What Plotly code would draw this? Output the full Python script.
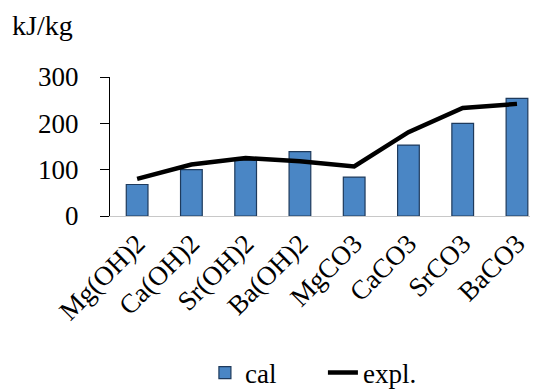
import plotly.graph_objects as go

categories = ["Mg(OH)2", "Ca(OH)2", "Sr(OH)2", "Ba(OH)2", "MgCO3", "CaCO3", "SrCO3", "BaCO3"]
cal = [68, 100, 120, 139, 84, 153, 200, 254]
expl = [80, 111, 125, 118, 107, 181, 233, 242]
y_ticks = [0, 100, 200, 300]

FONT = "Liberation Serif, Times New Roman, serif"

fig = go.Figure()
fig.add_trace(go.Bar(
    x=categories, y=cal, name="cal", width=0.4,
    marker=dict(color="#4A86C5", line=dict(color="#1E3A5C", width=1.2)),
))
fig.add_trace(go.Scatter(
    x=categories, y=expl, name="expl.", mode="lines",
    line=dict(color="black", width=4.5),
))

fig.update_layout(
    width=537, height=390,
    margin=dict(l=110, r=7, t=77, b=174, autoexpand=False),
    paper_bgcolor="white", plot_bgcolor="white",
    font=dict(family=FONT, size=27, color="black"),
    showlegend=True,
    legend=dict(orientation="h", x=0.226, xanchor="left", y=-1.13, yanchor="middle",
                font=dict(size=27), traceorder="normal",
                entrywidth=73, entrywidthmode="pixels"),
    xaxis=dict(type="category", range=[-0.5, 7.24], showline=True, linecolor="#C8C8C8",
               linewidth=1, ticks="", tickangle=-45, tickfont=dict(size=27),
               showgrid=False, zeroline=False, automargin=False),
    yaxis=dict(range=[0, 300], tickvals=y_ticks, showline=True, linecolor="black",
               linewidth=1, ticks="outside", ticklen=9, tickcolor="black",
               showgrid=False, zeroline=False, tickfont=dict(size=27),
               ticklabelstandoff=16, automargin=False),
    annotations=[dict(text="kJ/kg", xref="paper", yref="paper", x=-0.238, y=1.374,
                      xanchor="left", yanchor="middle", showarrow=False,
                      font=dict(size=28))],
)

fig.write_html("out.html", config={"displayModeBar": False},
               post_script="document.body.style.margin='0';document.body.style.padding='0';")
